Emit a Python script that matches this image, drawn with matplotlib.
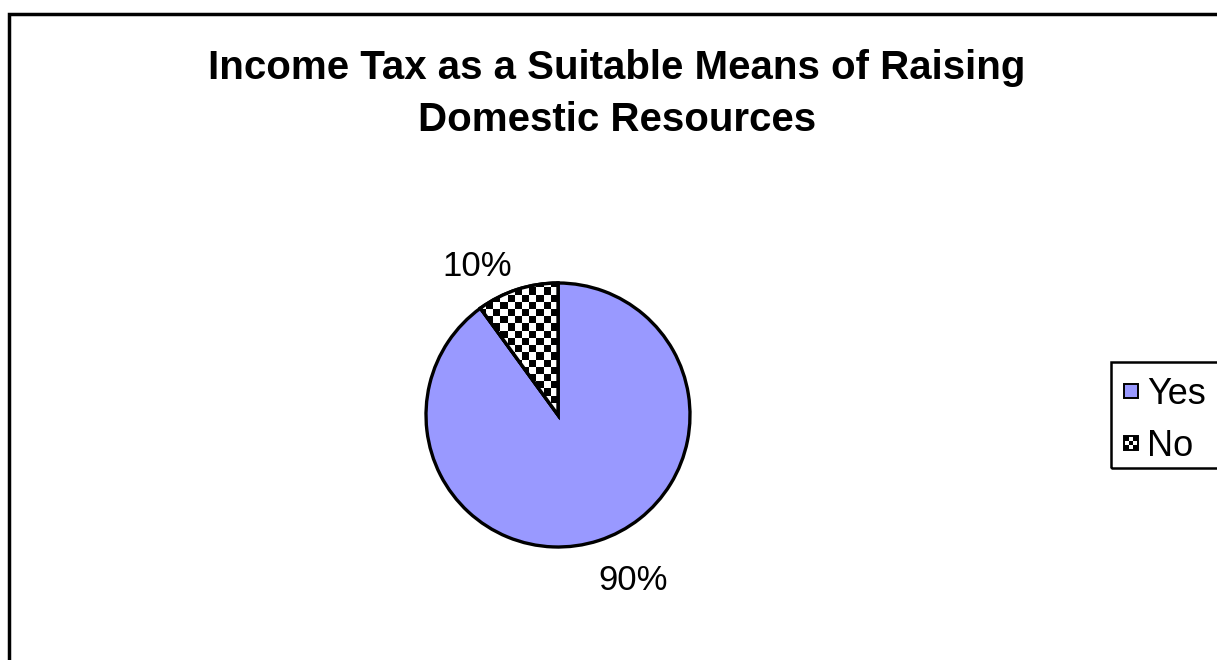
import numpy as np
import matplotlib
matplotlib.use("Agg")
import matplotlib.pyplot as plt
from matplotlib.patches import Rectangle, Wedge

labels = ["Yes", "No"]
values = [90, 10]
colors = ["#9999FF", "white"]

plt.rcParams['font.family'] = ['Liberation Sans', 'DejaVu Sans']

W, H = 1217, 660
fig = plt.figure(figsize=(W / 100, H / 100), dpi=100)
ax = fig.add_axes([0, 0, 1, 1])

# outer chart frame (runs off the right and bottom edges)
ax.add_patch(Rectangle((9, -20), W + 50, H - 14 + 20, fill=False,
                       edgecolor='black', linewidth=2.5))

cx, cy, r = 558, H - 415, 132
wedges, texts, autotexts = ax.pie(
    values, colors=colors, startangle=90, counterclock=False,
    center=(cx, cy), radius=r, autopct='%1.0f%%', pctdistance=1.3,
    wedgeprops=dict(edgecolor='black', linewidth=2.4),
    textprops=dict(fontsize=25, color='black'))
ax.set_xlim(0, W)
ax.set_ylim(0, H)
ax.set_aspect('equal')
ax.axis('off')

# Excel puts the data labels a bit off the mid-angle
autotexts[0].set_position((633, H - 580))
autotexts[1].set_position((477, H - 266))

# checkerboard fill for the "No" slice
sq = 7.2
n = int(2 * r / sq) + 2
board = (np.indices((n, n)).sum(axis=0) % 2).astype(float)
img = ax.imshow(board, cmap='gray', interpolation='nearest',
                extent=(cx - n * sq, cx, cy - r, cy - r + n * sq), zorder=2)
img.set_clip_path(wedges[1])
ax.add_patch(Wedge((cx, cy), r, 90, 126, fill=False, edgecolor='black',
                   linewidth=2.4, zorder=3))

ax.text(617, H - 94, "Income Tax as a Suitable Means of Raising\nDomestic Resources",
        ha='center', va='center', fontsize=29, fontweight='bold',
        linespacing=1.45)

# legend box, drawn by hand so it can run off the right edge like the original
ax.add_patch(Rectangle((1111, H - 468), 150, 106, fill=False,
                       edgecolor='black', linewidth=1.8, zorder=4))
ys = [H - 391, H - 443]
ax.add_patch(Rectangle((1124, ys[0] - 7), 14, 14, facecolor=colors[0],
                       edgecolor='black', linewidth=1.4, zorder=5))
mini = (np.indices((3, 3)).sum(axis=0) % 2).astype(float)
ax.imshow(mini, cmap='gray', interpolation='nearest',
          extent=(1124, 1138, ys[1] - 7, ys[1] + 7), zorder=5)
ax.add_patch(Rectangle((1124, ys[1] - 7), 14, 14, fill=False,
                       edgecolor='black', linewidth=1.4, zorder=6))
for y, lab in zip(ys, labels):
    ax.text(1147, y - 3, lab, fontsize=26, va='center', ha='left', zorder=6)

ax.set_xlim(0, W)
ax.set_ylim(0, H)

fig.savefig("out.png", dpi=100)
